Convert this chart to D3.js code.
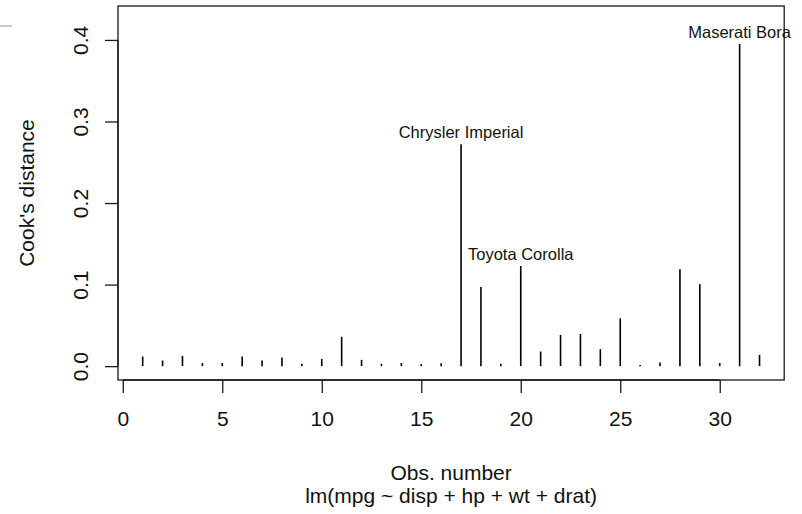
<!DOCTYPE html>
<html>
<head>
<meta charset="utf-8">
<script src="https://cdn.jsdelivr.net/npm/d3@7"></script>
<style>
  html, body { margin: 0; padding: 0; background: #fff; }
  svg { display: block; }
  text { font-family: "Liberation Sans", Arial, Helvetica, sans-serif; fill: #111; }
</style>
</head>
<body>
<svg id="chart" width="802" height="514"></svg>
<script>
// Cook's distance for each observation of lm(mpg ~ disp + hp + wt + drat), mtcars
const obs = d3.range(1, 33);
const cooks = [
  0.0118, 0.0069, 0.0126, 0.0037, 0.0037, 0.0118, 0.0069, 0.0106,
  0.0028, 0.0089, 0.0360, 0.0077, 0.0030, 0.0037, 0.0025, 0.0037,
  0.2720, 0.0970, 0.0030, 0.1228, 0.0179, 0.0383, 0.0395, 0.0208,
  0.0587, 0.0015, 0.0045, 0.1187, 0.1004, 0.0037, 0.3950, 0.0138
];
// observations flagged with their car names
const idObs = [17, 20, 31];
const idNames = ["Chrysler Imperial", "Toyota Corolla", "Maserati Bora"];
const xTicks = [0, 5, 10, 15, 20, 25, 30];
const yTicks = [0.0, 0.1, 0.2, 0.3, 0.4];
const xTitle = "Obs. number";
const yTitle = "Cook's distance";
const caption = "lm(mpg ~ disp + hp + wt + drat)";

const svg = d3.select("#chart");
const plot = { left: 118, right: 784.2, top: 6, bottom: 380 };

// R-style limits: ylim = c(0, 1.075 * max), both axes padded by 4%
const xMin = d3.min(obs), xMax = d3.max(obs);
const xPad = 0.04 * (xMax - xMin);
const x = d3.scaleLinear()
  .domain([xMin - xPad, xMax + xPad])
  .range([plot.left, plot.right]);

const yTop = 1.075 * d3.max(cooks);
const y = d3.scaleLinear()
  .domain([-0.04 * yTop, 1.04 * yTop])
  .range([plot.bottom, plot.top]);

const ink = "#1a1a1a";

// stray rule at the top-left corner
svg.append("line")
  .attr("x1", 0).attr("x2", 12).attr("y1", 26).attr("y2", 26)
  .attr("stroke", "#aaa").attr("stroke-width", 1.3);

// vertical lines, one per observation
svg.append("g")
  .selectAll("line")
  .data(obs)
  .join("line")
  .attr("x1", d => x(d)).attr("x2", d => x(d))
  .attr("y1", y(0))
  .attr("y2", (d, i) => y(cooks[i]))
  .attr("stroke", "#000")
  .attr("stroke-width", 1.6);

// names of the most influential observations
svg.append("g")
  .selectAll("text")
  .data(idObs)
  .join("text")
  .attr("x", d => x(d))
  .attr("y", d => y(cooks[d - 1]) - 6.5)
  .attr("text-anchor", "middle")
  .style("font-size", "16.5px")
  .text((d, i) => idNames[i]);

// plot frame
svg.append("rect")
  .attr("x", plot.left).attr("y", plot.top)
  .attr("width", plot.right - plot.left)
  .attr("height", plot.bottom - plot.top)
  .attr("fill", "none")
  .attr("stroke", ink)
  .attr("stroke-width", 1.3);

// x axis
const gx = svg.append("g")
  .attr("transform", `translate(0,${plot.bottom})`)
  .call(d3.axisBottom(x).tickValues(xTicks).tickFormat(d3.format("d"))
    .tickSize(13).tickSizeOuter(0).tickPadding(20));
gx.select(".domain").remove();
gx.append("line")
  .attr("x1", x(xTicks[0])).attr("x2", x(xTicks[xTicks.length - 1]))
  .attr("stroke", ink).attr("stroke-width", 1.3);
gx.selectAll(".tick line").attr("stroke", ink).attr("stroke-width", 1.3);
gx.selectAll(".tick text")
  .attr("fill", "#111")
  .attr("dy", null)
  .attr("y", 46)
  .style("font-size", "21px")
  .style("font-family", "'Liberation Sans', Arial, sans-serif");

// y axis with labels parallel to the axis
const gy = svg.append("g")
  .attr("transform", `translate(${plot.left},0)`)
  .call(d3.axisLeft(y).tickValues(yTicks).tickFormat(d3.format(".1f"))
    .tickSize(13).tickSizeOuter(0));
gy.select(".domain").remove();
gy.append("line")
  .attr("y1", y(yTicks[0])).attr("y2", y(yTicks[yTicks.length - 1]))
  .attr("stroke", ink).attr("stroke-width", 1.3);
gy.selectAll(".tick line").attr("stroke", ink).attr("stroke-width", 1.3);
gy.selectAll(".tick text")
  .attr("fill", "#111")
  .attr("x", null).attr("dy", null)
  .attr("text-anchor", "middle")
  .attr("transform", "translate(-30,0) rotate(-90)")
  .style("font-size", "21px")
  .style("font-family", "'Liberation Sans', Arial, sans-serif");

// axis titles and model caption
const cx = (plot.left + plot.right) / 2;
svg.append("text")
  .attr("x", cx).attr("y", 480)
  .attr("text-anchor", "middle")
  .style("font-size", "21px")
  .text(xTitle);
svg.append("text")
  .attr("x", cx).attr("y", 502.5)
  .attr("text-anchor", "middle")
  .style("font-size", "21px")
  .text(caption);
svg.append("text")
  .attr("transform", `translate(34,${(plot.top + plot.bottom) / 2}) rotate(-90)`)
  .attr("text-anchor", "middle")
  .style("font-size", "21px")
  .text(yTitle);
</script>
</body>
</html>
